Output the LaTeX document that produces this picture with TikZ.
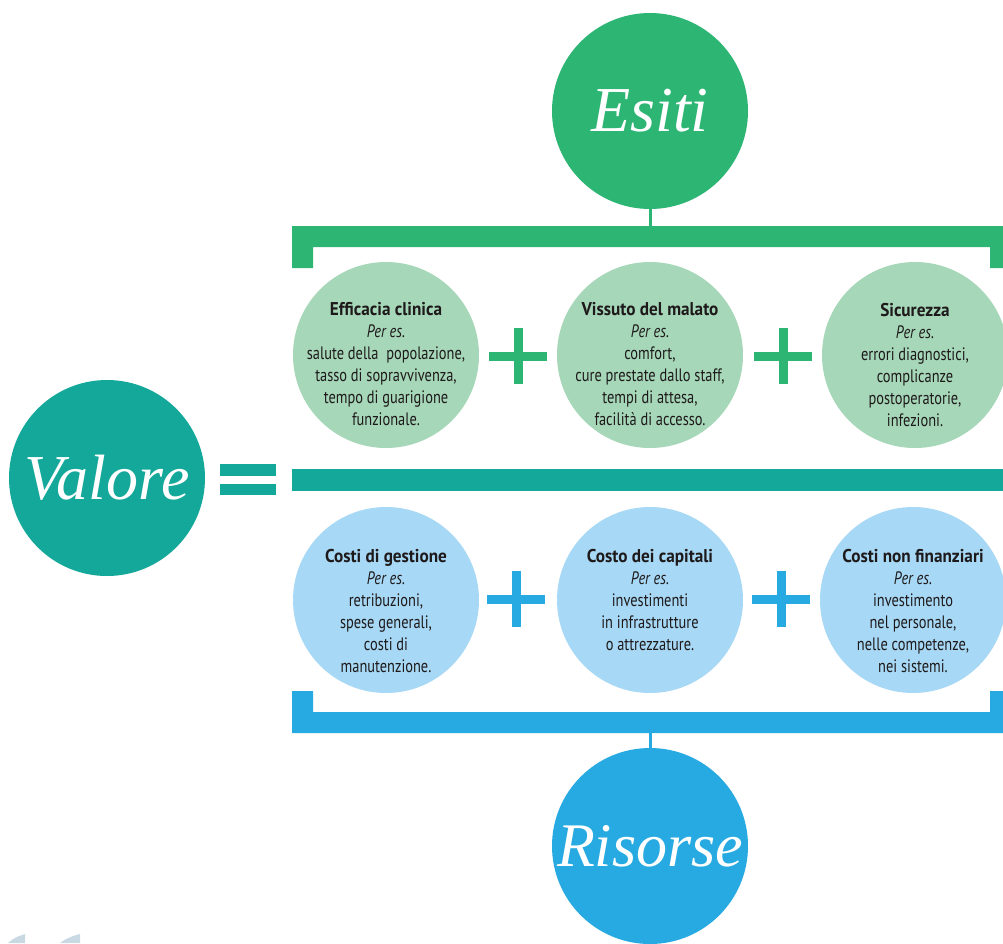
\documentclass[tikz,border=0pt]{standalone}
\usepackage{fontspec}
\setmainfont{PT Sans}[FakeStretch=0.8]
\newfontfamily\headfont{PT Sans}[FakeStretch=0.93]
\newfontfamily\bigserif{Liberation Serif}
\definecolor{dgreen}{HTML}{2DB574}
\definecolor{lgreen}{HTML}{A6D7B8}
\definecolor{teal}{HTML}{14A89B}
\definecolor{dblue}{HTML}{27AAE1}
\definecolor{lblue}{HTML}{A7D8F5}
\definecolor{txt}{HTML}{1E1A1B}
\definecolor{ghost}{HTML}{C8D9E3}
\newcommand{\hd}[1]{{\headfont\bfseries\fontsize{18.5}{22}\selectfont #1}}
\tikzset{
  bigcirc/.style={circle, minimum size=196pt, inner sep=0pt, text=white,
    font=\bigserif\itshape\fontsize{64}{70}\selectfont},
  smallcirc/.style={circle, minimum size=186pt, inner sep=0pt},
  desc/.style={anchor=north, inner sep=0pt, align=center, text=txt,
    font=\fontsize{18}{22}\selectfont},
  plusbar/.style={line width=9pt},
  stem/.style={line width=3pt}
}
\begin{document}
\begin{tikzpicture}[x=1pt,y=-1pt]
\useasboundingbox (0,0) rectangle (1003,943);
\clip (0,0) rectangle (1003,943);
\fill[white] (0,0) rectangle (1003,943);

% big circles
\node[bigcirc, fill=dgreen] (esiti) at (650,111) {Esiti};
\node[bigcirc, fill=teal] (valore) at (107,478) {Valore};
\node[bigcirc, fill=dblue, font=\bigserif\itshape\fontsize{62}{70}\selectfont] (risorse) at (650,846) {Risorse};

% brackets and bar
\fill[dgreen] (292,226) -- (1012,226) -- (1012,268) -- (990,268) -- (990,247) -- (313,247) -- (313,268) -- (292,268) -- cycle;
\fill[teal] (292,469) rectangle (1012,491);
\fill[dblue] (292,691) -- (292,733) -- (1012,733) -- (1012,691) -- (990,691) -- (990,712) -- (313,712) -- (313,691) -- cycle;
\coordinate (topbar) at (650,226);
\coordinate (botbar) at (650,733);
\draw[stem, dgreen] (esiti.south) -- (topbar);
\draw[stem, dblue] (botbar) -- (risorse.north);

% equals sign
\fill[teal] (220,464) rectangle (276,476);
\fill[teal] (220,484) rectangle (276,495);

% green circles
\node[smallcirc, fill=lgreen] (c1) at (386,355) {};
\node[smallcirc, fill=lgreen] (c2) at (650,355) {};
\node[smallcirc, fill=lgreen] (c3) at (915,355) {};
\node[desc] (t1) at (386,302) {\hd{Efficacia clinica}\\{\itshape Per es.}\\salute della\ \ popolazione,\\tasso di sopravvivenza,\\tempo di guarigione\\funzionale.};
\node[desc] (t2) at (650,302) {\hd{Vissuto del malato}\\{\itshape Per es.}\\comfort,\\cure prestate dallo staff,\\tempi di attesa,\\facilità di accesso.};
\node[desc] (t3) at (915,303) {\hd{Sicurezza}\\{\itshape Per es.}\\errori diagnostici,\\complicanze\\postoperatorie,\\infezioni.};

% blue circles
\node[smallcirc, fill=lblue] (d1) at (386,600) {};
\node[smallcirc, fill=lblue] (d2) at (650,600) {};
\node[smallcirc, fill=lblue] (d3) at (913,600) {};
\node[desc] (u1) at (386,549) {\hd{Costi di gestione}\\{\itshape Per es.}\\retribuzioni,\\spese generali,\\costi di\\manutenzione.};
\node[desc] (u2) at (650,549) {\hd{Costo dei capitali}\\{\itshape Per es.}\\investimenti\\in infrastrutture\\o attrezzature.};
\node[desc] (u3) at (913,549) {\hd{Costi non finanziari}\\{\itshape Per es.}\\investimento\\nel personale,\\nelle competenze,\\nei sistemi.};

% plus signs
\foreach \px/\py/\col in {518/356/dgreen, 783/356/dgreen, 516/599/dblue, 781/599/dblue}{
  \draw[plusbar, \col] (\px-29,\py) -- (\px+29,\py);
  \draw[plusbar, \col] (\px,\py-28) -- (\px,\py+28);
}

% faint marks bottom-left
\fill[ghost] (8,943) .. controls (12,939) and (18,936) .. (25,934) -- (25,943) -- cycle;
\fill[ghost] (60,943) .. controls (65,939) and (72,936) .. (80,934) -- (80,943) -- cycle;
\end{tikzpicture}
\end{document}
